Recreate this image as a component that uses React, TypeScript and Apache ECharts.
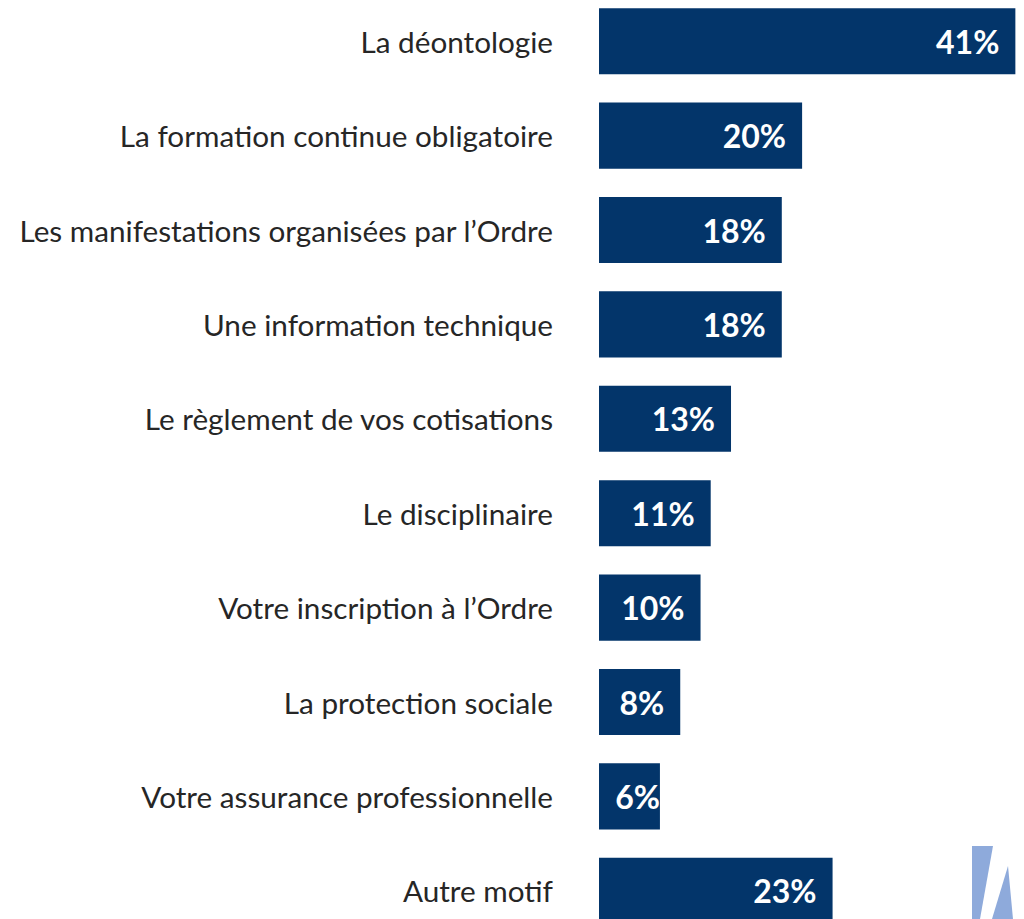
import React, { useEffect, useRef } from "react";
import * as echarts from "echarts";

const categories: string[] = [
  "La déontologie",
  "La formation continue obligatoire",
  "Les manifestations organisées par l’Ordre",
  "Une information technique",
  "Le règlement de vos cotisations",
  "Le disciplinaire",
  "Votre inscription à l’Ordre",
  "La protection sociale",
  "Votre assurance professionnelle",
  "Autre motif",
];

const values: number[] = [41, 20, 18, 18, 13, 11, 10, 8, 6, 23];

export default function App() {
  const ref = useRef<HTMLDivElement>(null);

  useEffect(() => {
    if (!ref.current) return;
    const chart = echarts.init(ref.current, undefined, { renderer: "svg" });

    const data = values.map((v) => ({
      value: v,
      label: v < 7 ? { distance: 0 } : undefined,
    }));

    chart.setOption({
      animation: false,
      backgroundColor: "#ffffff",
      grid: { left: 599, right: 0, top: 0, bottom: 0, containLabel: false },
      xAxis: {
        type: "value",
        min: 0,
        max: 41.85,
        show: false,
      },
      yAxis: {
        type: "category",
        inverse: true,
        data: categories,
        axisLine: { show: false },
        axisTick: { show: false },
        splitLine: { show: false },
        axisLabel: {
          margin: 46,
          color: "#262626",
          fontFamily: "Lato",
          fontSize: 29.7,
        },
      },
      series: [
        {
          type: "bar",
          data,
          barCategoryGap: "30%",
          itemStyle: { color: "#03356A" },
          label: {
            show: true,
            position: "insideRight",
            distance: 16,
            formatter: "{c}%",
            color: "#ffffff",
            fontFamily: "Lato",
            fontWeight: "bold",
            fontSize: 32,
          },
        },
      ],
      graphic: [
        {
          type: "rect",
          shape: { x: 972, y: 852, width: 48, height: 73 },
          style: { fill: "#8EAADB" },
          silent: true,
        },
        {
          type: "polygon",
          shape: {
            points: [
              [980, 925],
              [993, 852],
              [1020, 852],
              [1020, 925],
            ],
          },
          style: { fill: "#ffffff" },
          silent: true,
        },
        {
          type: "polygon",
          shape: {
            points: [
              [992, 925],
              [1008, 872],
              [1013, 925],
            ],
          },
          style: { fill: "#8EAADB" },
          silent: true,
        },
      ],
    });

    return () => chart.dispose();
  }, []);

  return (
    <div
      style={{
        position: "absolute",
        left: 0,
        top: 0,
        width: 1024,
        height: 919,
        overflow: "hidden",
      }}
    >
      <div
        ref={ref}
        style={{ position: "absolute", left: 0, top: -6, width: 1024, height: 944 }}
      />
    </div>
  );
}
